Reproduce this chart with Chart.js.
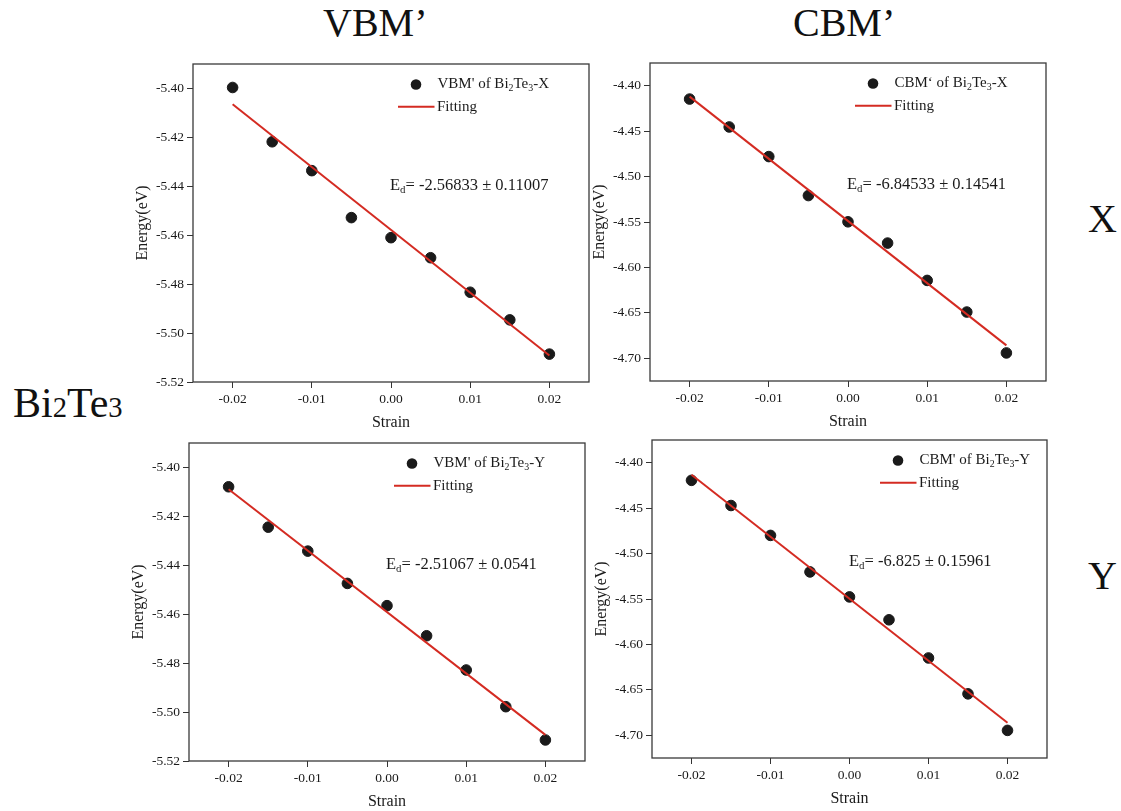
<!DOCTYPE html>
<html>
<head>
<meta charset="utf-8">
<script src="https://cdn.jsdelivr.net/npm/chart.js@4/dist/chart.umd.min.js"></script>
<style>
  body { margin: 0; background: #fff; width: 1121px; height: 811px; position: relative; overflow: hidden; }
  .big { position: absolute; font-family: "Liberation Serif", "Times New Roman", serif; color: #111; line-height: 1; white-space: nowrap; }
  .small { font-size: 0.68em; }
  canvas { position: absolute; }
</style>
</head>
<body>
<div class="big" style="left:323px; top:3px; font-size:40px;">VBM’</div>
<div class="big" style="left:793px; top:3px; font-size:40px;">CBM’</div>
<div class="big" style="left:13px; top:382px; font-size:42px;">Bi<span class="small">2</span>Te<span class="small">3</span></div>
<div class="big" style="left:1088px; top:199px; font-size:40px;">X</div>
<div class="big" style="left:1088px; top:556px; font-size:40px;">Y</div>

<canvas id="vbmX"></canvas>
<canvas id="cbmX"></canvas>
<canvas id="vbmY"></canvas>
<canvas id="cbmY"></canvas>

<script>
// strain values shared by all four panels
const strain = [-0.02, -0.015, -0.01, -0.005, 0, 0.005, 0.01, 0.015, 0.02];

// band edge energies (eV)
const vbmX = [-5.3996, -5.4218, -5.4336, -5.4528, -5.4610, -5.4692, -5.4833, -5.4946, -5.5086];
const cbmX = [-4.4147, -4.4454, -4.4780, -4.5209, -4.5498, -4.5732, -4.6143, -4.6491, -4.6941];
const vbmY = [-5.4079, -5.4244, -5.4342, -5.4474, -5.4565, -5.4688, -5.4828, -5.4978, -5.5114];
const cbmY = [-4.4194, -4.4471, -4.4800, -4.5202, -4.5477, -4.5729, -4.6149, -4.6544, -4.6946];

// deformation potentials (slope of fit) and their errors
const edSlope = [-2.56833, -6.84533, -2.51067, -6.825];
const edError = [0.11007, 0.14541, 0.0541, 0.15961];
// fit line value at zero strain
const fitIntercept = [-5.4578, -4.5489, -5.4591, -4.5497];

const pointLabels = ["VBM' of Bi_2Te_3-X", "CBM‘ of Bi_2Te_3-X", "VBM' of Bi_2Te_3-Y", "CBM' of Bi_2Te_3-Y"];

// axis ranges and tick values
const strainRange = [-0.025, 0.025];
const strainTicks = [-0.02, -0.01, 0, 0.01, 0.02];
const vbmRange = [-5.52, -5.39];
const vbmTicks = [-5.52, -5.50, -5.48, -5.46, -5.44, -5.42, -5.40];
const cbmRange = [-4.725, -4.375];
const cbmTicks = [-4.70, -4.65, -4.60, -4.55, -4.50, -4.45, -4.40];

const SERIF = '"Liberation Serif", "Times New Roman", serif';
const INK = '#1a1a1a';
const RED = '#d42b22';

// draws text where "_c" renders c as a subscript
function drawRich(ctx, str, x, y, size) {
  let i = 0;
  ctx.textBaseline = 'middle';
  ctx.textAlign = 'left';
  while (i < str.length) {
    if (str[i] === '_' && i + 1 < str.length) {
      ctx.font = (size * 0.66) + 'px ' + SERIF;
      ctx.fillText(str[i + 1], x, y + size * 0.28);
      x += ctx.measureText(str[i + 1]).width;
      i += 2;
    } else {
      let j = i;
      while (j < str.length && str[j] !== '_') j++;
      const part = str.slice(i, j);
      ctx.font = size + 'px ' + SERIF;
      ctx.fillText(part, x, y);
      x += ctx.measureText(part).width;
      i = j;
    }
  }
}

const frame = {
  id: 'frame',
  afterDatasetsDraw(chart, args, opts) {
    const { ctx, chartArea: a } = chart;
    ctx.save();
    ctx.strokeStyle = '#3a3a3a';
    ctx.lineWidth = 1.3;
    ctx.strokeRect(a.left, a.top, a.right - a.left, a.bottom - a.top);

    // legend
    ctx.fillStyle = INK;
    const lx = a.left + opts.legendX;
    ctx.beginPath();
    ctx.arc(lx, a.top + 20.5, 5.3, 0, Math.PI * 2);
    ctx.fill();
    drawRich(ctx, opts.label, lx + 21.5, a.top + 20.5, 15);
    ctx.strokeStyle = RED;
    ctx.lineWidth = 2;
    ctx.beginPath();
    ctx.moveTo(lx - 18, a.top + 42.7);
    ctx.lineTo(lx + 18.5, a.top + 42.7);
    ctx.stroke();
    drawRich(ctx, 'Fitting', lx + 21, a.top + 42.7, 15);

    // deformation potential
    drawRich(ctx, 'E_d= ' + opts.slope + ' ± ' + opts.err, a.left + 197, a.top + 122, 16.5);
    ctx.restore();
  }
};

function fmt(v, d) {
  if (Math.abs(v) < 1e-9) v = 0;
  return v.toFixed(d);
}

function makePanel(id, box, energies, k, yRange, yTicks, legendX) {
  const padL = 70, padT = 14, padR = 10, padB = 60;
  const cv = document.getElementById(id);
  cv.width = box.w + padL + padR;
  cv.height = box.h + padT + padB;
  cv.style.left = (box.x - padL) + 'px';
  cv.style.top = (box.y - padT) + 'px';

  const pts = strain.map((s, i) => ({ x: s, y: energies[i] }));
  const ends = [strain[0], strain[strain.length - 1]];
  const fit = ends.map(s => ({ x: s, y: fitIntercept[k] + edSlope[k] * s }));

  new Chart(cv, {
    type: 'scatter',
    data: {
      datasets: [
        {
          type: 'line',
          label: 'Fitting',
          data: fit,
          borderColor: RED,
          borderWidth: 2,
          pointRadius: 0,
          order: 0
        },
        {
          label: pointLabels[k],
          data: pts,
          backgroundColor: INK,
          borderColor: INK,
          pointRadius: 5.3,
          order: 1
        }
      ]
    },
    options: {
      responsive: false,
      animation: false,
      devicePixelRatio: 1,
      layout: { padding: { left: 0, top: padT, right: padR, bottom: 0 } },
      plugins: {
        legend: { display: false },
        tooltip: { enabled: false },
        frame: { legendX: legendX, label: pointLabels[k], slope: edSlope[k], err: edError[k] }
      },
      scales: {
        x: {
          type: 'linear',
          min: strainRange[0],
          max: strainRange[1],
          border: { display: false },
          grid: { drawOnChartArea: false, tickLength: 6, color: '#333' },
          ticks: {
            color: INK,
            padding: 3,
            maxRotation: 0,
            autoSkip: false,
            font: { family: SERIF, size: 13.5 },
            callback: v => fmt(v, 2)
          },
          afterBuildTicks: s => { s.ticks = strainTicks.map(v => ({ value: v })); },
          title: {
            display: true,
            text: 'Strain',
            color: INK,
            font: { family: SERIF, size: 16 },
            padding: { top: 0, bottom: 9.4 }
          },
          afterFit: s => { s.height = padB; s.paddingLeft = 0; s.paddingRight = 0; }
        },
        y: {
          type: 'linear',
          min: yRange[0],
          max: yRange[1],
          border: { display: false },
          grid: { drawOnChartArea: false, tickLength: 6, color: '#333' },
          ticks: {
            color: INK,
            padding: 3,
            autoSkip: false,
            font: { family: SERIF, size: 13.5 },
            callback: v => fmt(v, 2)
          },
          afterBuildTicks: s => { s.ticks = yTicks.map(v => ({ value: v })); },
          title: {
            display: true,
            text: 'Energy(eV)',
            color: INK,
            font: { family: SERIF, size: 16 },
            padding: { top: 10.4, bottom: 0 }
          },
          afterFit: s => { s.width = padL; s.paddingTop = 0; s.paddingBottom = 0; }
        }
      }
    },
    plugins: [frame]
  });
}

makePanel('vbmX', { x: 193, y: 64, w: 396, h: 318 }, vbmX, 0, vbmRange, vbmTicks, 223);
makePanel('cbmX', { x: 650, y: 63, w: 396, h: 318 }, cbmX, 1, cbmRange, cbmTicks, 223);
makePanel('vbmY', { x: 189, y: 443, w: 396, h: 318 }, vbmY, 2, vbmRange, vbmTicks, 223);
makePanel('cbmY', { x: 652, y: 440, w: 395, h: 318 }, cbmY, 3, cbmRange, cbmTicks, 246);
</script>
</body>
</html>
